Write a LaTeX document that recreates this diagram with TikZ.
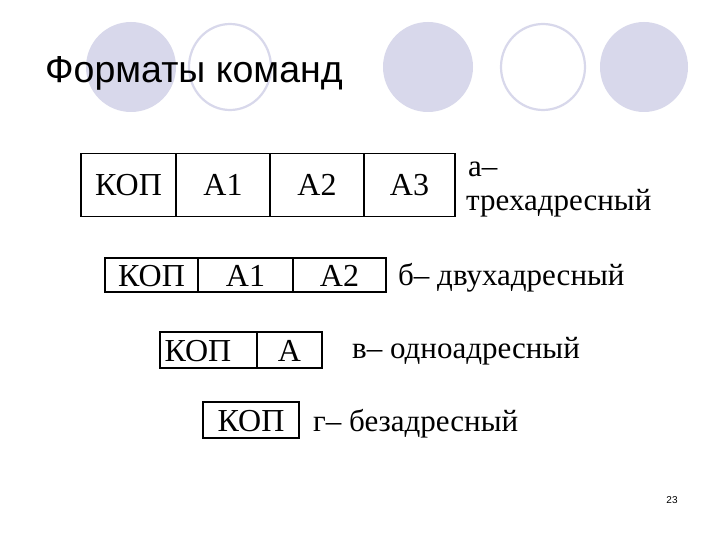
\documentclass[tikz,border=0pt]{standalone}
\usepackage{fontspec}
\setmainfont{Liberation Serif}
\newfontfamily\titlefont{Liberation Sans}
\definecolor{lav}{RGB}{216,216,235}
\begin{document}
\begin{tikzpicture}[x=1pt,y=-1pt,
  cell/.style={draw=black,line width=1.6pt,inner sep=0pt,text height=22pt,text depth=0pt,font=\fontsize{32}{32}\selectfont},
  lbl/.style={anchor=base west,inner sep=0pt,font=\fontsize{31}{31}\selectfont},
  fcirc/.style={fill=lav,draw=none},
  ocirc/.style={draw=lav,line width=2.2pt,fill=white}]
\useasboundingbox[fill=white] (0,0) rectangle (720,540);
% decorative circles
\path[fcirc] (131,67) ellipse [x radius=45,y radius=45];
\path[ocirc] (230,67) ellipse [x radius=41,y radius=43];
\path[fcirc] (428,67) ellipse [x radius=45,y radius=45];
\path[ocirc] (543,67) ellipse [x radius=42,y radius=43];
\path[fcirc] (644,67) ellipse [x radius=44,y radius=45];
\node[anchor=base west,inner sep=0pt,font=\titlefont\fontsize{37.5}{37.5}\selectfont] (title) at (45,83) {Форматы команд};
% row a
\node[cell,minimum width=95pt,minimum height=63pt] (a0) at (128.5,185) {КОП};
\node[cell,minimum width=94pt,minimum height=63pt] (a1) at (223,185) {А1};
\node[cell,minimum width=94pt,minimum height=63pt] (a2) at (317,185) {А2};
\node[cell,minimum width=91pt,minimum height=63pt] (a3) at (409.5,185) {А3};
\node[lbl] (la1) at (468,177) {а–};
\node[lbl] (la2) at (466,211) {трехадресный};
% row b
\node[cell,minimum width=93pt,minimum height=34pt] (b0) at (151.5,275) {КОП};
\node[cell,minimum width=95pt,minimum height=34pt] (b1) at (245.5,275) {А1};
\node[cell,minimum width=93pt,minimum height=34pt] (b2) at (339.5,275) {А2};
\node[lbl] (lb) at (398,285) {б– двухадресный};
% row c
\node[cell,minimum width=97pt,minimum height=36pt] (c0) at (208.5,350) {\makebox[88pt][l]{КОП}};
\node[cell,minimum width=65pt,minimum height=36pt] (c1) at (289.5,350) {А};
\node[lbl] (lc) at (352,358) {в– одноадресный};
% row d
\node[cell,minimum width=96pt,minimum height=36pt] (d0) at (251,420) {КОП};
\node[lbl] (ld) at (313,431) {г– безадресный};
% page number
\node[font=\titlefont\fontsize{10}{10}\selectfont,inner sep=0pt] (pg) at (672,500) {23};
\end{tikzpicture}
\end{document}
